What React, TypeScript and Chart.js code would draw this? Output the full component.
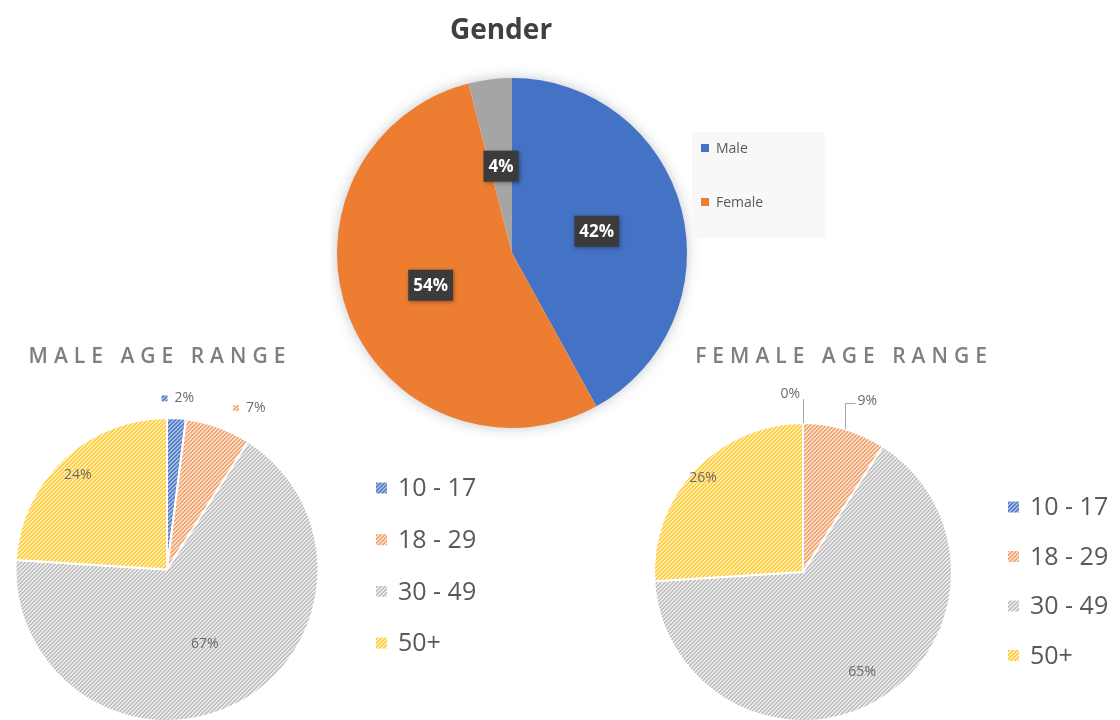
import { useEffect, useRef } from 'react';
import { Chart, registerables } from 'chart.js';

Chart.register(...registerables);

// ---------------- data ----------------
const genderTitle = 'Gender';
const genderLabels = ['Male', 'Female', 'Other'];
const genderValues = [42, 54, 4];
const genderLegendHidden = ['Other'];

const maleTitle = 'MALE AGE RANGE';
const femaleTitle = 'FEMALE AGE RANGE';
const ageLabels = ['10 - 17', '18 - 29', '30 - 49', '50+'];
const maleAgeValues = [2, 7, 67, 24];
const femaleAgeValues = [0, 9, 65, 26];

const genderColors = ['#4472C4', '#ED7D31', '#A5A5A5'];
const ageColors = ['#4472C4', '#ED7D31', '#A5A5A5', '#FFC000'];
// hatch foreground / background lightening per age colour
const ageFgMix = [0.1, 0.3, 0.3, 0.22];
const ageBgMix = [0.5, 0.75, 0.78, 0.72];

const FONT = '"Open Sans", sans-serif';

// ---------------- helpers ----------------
function hexToRgb(hex: string): number[] {
  const h = hex.replace('#', '');
  return [0, 2, 4].map((i) => parseInt(h.substr(i, 2), 16));
}

function lighten(hex: string, mix: number): string {
  const [r, g, b] = hexToRgb(hex);
  const m = (v: number) => Math.round(v + (255 - v) * mix);
  return `rgb(${m(r)},${m(g)},${m(b)})`;
}

function hatch(hex: string, fgMix: number, bgMix: number): CanvasPattern | string {
  const c = document.createElement('canvas');
  c.width = 4;
  c.height = 4;
  const g = c.getContext('2d');
  if (!g) return hex;
  g.fillStyle = lighten(hex, bgMix);
  g.fillRect(0, 0, 4, 4);
  g.fillStyle = lighten(hex, fgMix);
  for (let y = 0; y < 4; y++) {
    for (let x = 0; x < 4; x++) {
      if ((x + y) % 4 < 2) g.fillRect(x, y, 1, 1);
    }
  }
  const p = g.createPattern(c, 'repeat');
  return p || hex;
}

// ---------------- plugins ----------------
const freeTitle = {
  id: 'freeTitle',
  afterDraw(chart: any, _a: any, o: any) {
    const ctx = chart.ctx as CanvasRenderingContext2D;
    ctx.save();
    ctx.font = o.font;
    ctx.fillStyle = o.color;
    (ctx as any).letterSpacing = o.spacing || '0px';
    ctx.textAlign = 'center';
    ctx.textBaseline = 'middle';
    ctx.fillText(o.text, o.x, o.y);
    ctx.restore();
  },
};

const pieShadow = {
  id: 'pieShadow',
  beforeDatasetsDraw(chart: any, _a: any, o: any) {
    if (!o.enabled) return;
    const el = chart.getDatasetMeta(0).data[0];
    if (!el) return;
    const { x, y, outerRadius } = el.getProps(['x', 'y', 'outerRadius'], true);
    const ctx = chart.ctx as CanvasRenderingContext2D;
    ctx.save();
    ctx.shadowColor = o.color;
    ctx.shadowBlur = o.blur;
    ctx.beginPath();
    ctx.arc(x, y, outerRadius - 1, 0, Math.PI * 2);
    ctx.fillStyle = '#ffffff';
    ctx.fill();
    ctx.restore();
  },
};

const sideLegend = {
  id: 'sideLegend',
  afterDraw(chart: any, _a: any, o: any) {
    const ctx = chart.ctx as CanvasRenderingContext2D;
    const labels = chart.data.labels as string[];
    const colors = chart.data.datasets[0].backgroundColor as any[];
    const hidden: string[] = o.hidden || [];
    ctx.save();
    if (o.bg) {
      ctx.fillStyle = o.bg;
      ctx.fillRect(o.bgX, o.bgY, o.bgW, o.bgH);
    }
    ctx.font = `${o.size}px ${FONT}`;
    ctx.textBaseline = 'middle';
    ctx.textAlign = 'left';
    let k = 0;
    labels.forEach((lab, i) => {
      if (hidden.includes(lab)) return;
      const y = o.y + k * o.gap;
      ctx.fillStyle = colors[i];
      ctx.fillRect(o.x, y - o.box / 2, o.box, o.box);
      ctx.fillStyle = o.color;
      ctx.fillText(lab, o.textX, y + 1);
      k++;
    });
    ctx.restore();
  },
};

const pctLabels = {
  id: 'pctLabels',
  afterDatasetsDraw(chart: any, _a: any, o: any) {
    const ctx = chart.ctx as CanvasRenderingContext2D;
    const meta = chart.getDatasetMeta(0);
    const vals = chart.data.datasets[0].data as number[];
    const total = vals.reduce((a, b) => a + b, 0);
    const colors = chart.data.datasets[0].backgroundColor as any[];
    ctx.save();
    meta.data.forEach((el: any, i: number) => {
      const { x, y, startAngle, endAngle, outerRadius: r } = el.getProps(
        ['x', 'y', 'startAngle', 'endAngle', 'outerRadius'],
        true
      );
      const mid = (startAngle + endAngle) / 2;
      const cs = Math.cos(mid);
      const sn = Math.sin(mid);
      const text = Math.round((vals[i] / total) * 100) + '%';
      const mode = o.modes[i];
      if (mode === 'box') {
        const px = x + cs * r * 0.5;
        const py = y + sn * r * 0.5;
        ctx.font = `bold ${o.size}px ${FONT}`;
        const w = ctx.measureText(text).width + o.padX * 2;
        const h = o.boxH;
        ctx.shadowColor = 'rgba(0,0,0,0.35)';
        ctx.shadowBlur = 4;
        ctx.shadowOffsetX = 1;
        ctx.shadowOffsetY = 1;
        ctx.fillStyle = o.boxColor;
        ctx.fillRect(px - w / 2, py - h / 2, w, h);
        ctx.shadowColor = 'transparent';
        ctx.shadowBlur = 0;
        ctx.shadowOffsetX = 0;
        ctx.shadowOffsetY = 0;
        ctx.fillStyle = '#ffffff';
        ctx.textAlign = 'center';
        ctx.textBaseline = 'middle';
        ctx.fillText(text, px, py + 1);
      } else if (mode === 'inside') {
        const d = r * o.ratios[i];
        ctx.font = `${o.size}px ${FONT}`;
        ctx.fillStyle = o.color;
        ctx.textAlign = 'center';
        ctx.textBaseline = 'middle';
        ctx.fillText(text, x + cs * d, y + sn * d);
      } else if (mode === 'marker') {
        const d = r + o.offset;
        const px = x + cs * d;
        const py = y + sn * d;
        ctx.font = `${o.size}px ${FONT}`;
        const tw = ctx.measureText(text).width;
        const gw = o.marker + o.markerGap + tw;
        const left = cs > 0.2 ? px + 8 : px - gw / 2;
        ctx.fillStyle = colors[i];
        ctx.fillRect(left, py - o.marker / 2, o.marker, o.marker);
        ctx.fillStyle = o.color;
        ctx.textAlign = 'left';
        ctx.textBaseline = 'middle';
        ctx.fillText(text, left + o.marker + o.markerGap, py);
      } else if (mode === 'leader') {
        const ex = x + cs * r;
        const ey = y + sn * r;
        const ty = y + sn * (r + o.offset);
        ctx.font = `${o.size}px ${FONT}`;
        ctx.fillStyle = o.color;
        ctx.textBaseline = 'middle';
        ctx.strokeStyle = o.leaderColor;
        ctx.lineWidth = 1;
        ctx.beginPath();
        if (cs < 0.1) {
          ctx.textAlign = 'right';
          ctx.fillText(text, ex - 3, ty);
          ctx.moveTo(Math.round(ex) + 0.5, ty + 5);
          ctx.lineTo(Math.round(ex) + 0.5, ey);
        } else {
          ctx.textAlign = 'left';
          ctx.fillText(text, ex + 13, ty);
          ctx.moveTo(ex + 11, Math.round(ty) + 2.5);
          ctx.lineTo(Math.round(ex) + 0.5, Math.round(ty) + 2.5);
          ctx.lineTo(Math.round(ex) + 0.5, ey);
        }
        ctx.stroke();
      }
    });
    ctx.restore();
  },
};

// ---------------- component ----------------
export default function App() {
  const gRef = useRef<HTMLCanvasElement>(null);
  const mRef = useRef<HTMLCanvasElement>(null);
  const fRef = useRef<HTMLCanvasElement>(null);

  useEffect(() => {
    document.body.style.margin = '0';
    const charts: Chart[] = [];

    const agePatterns = ageColors.map((c, i) => hatch(c, ageFgMix[i], ageBgMix[i]));

    if (gRef.current) {
      charts.push(
        new Chart(gRef.current, {
          type: 'pie',
          data: {
            labels: genderLabels,
            datasets: [{ data: genderValues, backgroundColor: genderColors, borderWidth: 0 }],
          },
          options: {
            responsive: false,
            animation: false,
            events: [],
            layout: { padding: { left: 7, right: 153, top: 78, bottom: 12 } },
            plugins: {
              legend: { display: false },
              title: { display: false },
              tooltip: { enabled: false },
              freeTitle: {
                text: genderTitle,
                x: 171,
                y: 31,
                font: `bold 28px ${FONT}`,
                color: '#404040',
                spacing: '0px',
              },
              pieShadow: { enabled: true, color: 'rgba(60,70,90,0.35)', blur: 14 },
              sideLegend: {
                hidden: genderLegendHidden,
                x: 371,
                textX: 386,
                y: 148,
                gap: 54,
                box: 8,
                size: 14,
                color: '#595959',
                bg: '#f8f8f8',
                bgX: 362,
                bgY: 132,
                bgW: 133,
                bgH: 106,
              },
              pctLabels: {
                modes: ['box', 'box', 'box'],
                size: 17,
                padX: 5,
                boxH: 31,
                boxColor: '#3b3b3b',
              },
            } as any,
          },
          plugins: [pieShadow, pctLabels, sideLegend, freeTitle],
        })
      );
    }

    const ageConfig = (values: number[], title: string, o: any) => ({
      type: 'pie' as const,
      data: {
        labels: ageLabels,
        datasets: [
          {
            data: values,
            backgroundColor: agePatterns as any,
            borderColor: '#ffffff',
            borderWidth: 2,
          },
        ],
      },
      options: {
        responsive: false,
        animation: false as const,
        events: [],
        layout: { padding: o.padding },
        plugins: {
          legend: { display: false },
          title: { display: false },
          tooltip: { enabled: false },
          freeTitle: {
            text: title,
            x: o.titleX,
            y: 27,
            font: `600 21px ${FONT}`,
            color: '#7f7f7f',
            spacing: '6px',
          },
          pieShadow: { enabled: false },
          sideLegend: {
            hidden: [],
            x: o.legendX,
            textX: o.legendX + 22,
            y: o.legendY,
            gap: o.legendGap,
            box: 11,
            size: 25,
            color: '#595959',
          },
          pctLabels: o.labels,
        } as any,
      },
      plugins: [pieShadow, pctLabels, sideLegend, freeTitle],
    });

    if (mRef.current) {
      charts.push(
        new Chart(
          mRef.current,
          ageConfig(maleAgeValues, maleTitle, {
            padding: { left: 13, right: 199, top: 87, bottom: 8 },
            titleX: 160,
            legendX: 376,
            legendY: 158,
            legendGap: 51.7,
            labels: {
              modes: ['marker', 'marker', 'inside', 'inside'],
              ratios: [0, 0, 0.55, 0.86],
              size: 14,
              color: '#6b6b6b',
              offset: 20,
              marker: 6,
              markerGap: 7,
            },
          }) as any
        )
      );
    }

    if (fRef.current) {
      charts.push(
        new Chart(
          fRef.current,
          ageConfig(femaleAgeValues, femaleTitle, {
            padding: { left: 33, right: 167, top: 92, bottom: 8 },
            titleX: 224,
            legendX: 388,
            legendY: 177,
            legendGap: 49.5,
            labels: {
              modes: ['leader', 'leader', 'inside', 'inside'],
              ratios: [0, 0, 0.78, 0.92],
              size: 14,
              color: '#6b6b6b',
              offset: 29,
              leaderColor: '#a6a6a6',
            },
          }) as any
        )
      );
    }

    return () => charts.forEach((c) => c.destroy());
  }, []);

  return (
    <div
      style={{
        position: 'fixed',
        left: 0,
        top: 0,
        width: 1120,
        height: 720,
        overflow: 'hidden',
        background: '#ffffff',
      }}
    >
      <canvas
        ref={gRef}
        width={510}
        height={440}
        style={{ position: 'absolute', left: 330, top: 0, width: 510, height: 440 }}
      />
      <canvas
        ref={mRef}
        width={520}
        height={400}
        style={{ position: 'absolute', left: 0, top: 330, width: 520, height: 400 }}
      />
      <canvas
        ref={fRef}
        width={500}
        height={400}
        style={{ position: 'absolute', left: 620, top: 330, width: 500, height: 400 }}
      />
    </div>
  );
}
